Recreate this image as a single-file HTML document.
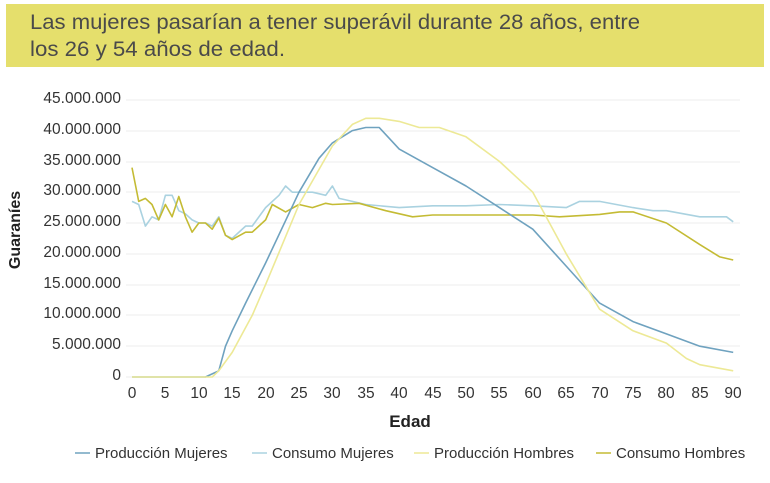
<!DOCTYPE html>
<html><head><meta charset="utf-8"><style>
body{margin:0;width:770px;height:478px;background:#fff;overflow:hidden;font-family:"Liberation Sans",sans-serif}
</style></head><body>
<svg width="770" height="478" xmlns="http://www.w3.org/2000/svg" font-family="Liberation Sans, sans-serif">
<rect x="6" y="4" width="758" height="63" fill="#e5df6c"/>
<text x="30" y="29" font-size="21" fill="#4a4a4a" textLength="610" lengthAdjust="spacingAndGlyphs">Las mujeres pasarían a tener superávil durante 28 años, entre</text>
<text x="30" y="56" font-size="21" fill="#4a4a4a" textLength="255" lengthAdjust="spacingAndGlyphs">los 26 y 54 años de edad.</text>
<g stroke="#ececec" stroke-width="1">
<line x1="126" x2="740" y1="100" y2="100"/><line x1="126" x2="740" y1="131" y2="131"/>
<line x1="126" x2="740" y1="162" y2="162"/><line x1="126" x2="740" y1="192" y2="192"/>
<line x1="126" x2="740" y1="223" y2="223"/><line x1="126" x2="740" y1="254" y2="254"/>
<line x1="126" x2="740" y1="285" y2="285"/><line x1="126" x2="740" y1="315" y2="315"/>
<line x1="126" x2="740" y1="346" y2="346"/><line x1="126" x2="740" y1="377" y2="377"/>
</g>
<g font-size="15.5" fill="#333" text-anchor="end">
<text x="121" y="103">45.000.000</text><text x="121" y="134">40.000.000</text>
<text x="121" y="165">35.000.000</text><text x="121" y="195">30.000.000</text>
<text x="121" y="226">25.000.000</text><text x="121" y="257">20.000.000</text>
<text x="121" y="288">15.000.000</text><text x="121" y="318">10.000.000</text>
<text x="121" y="349">5.000.000</text><text x="121" y="380">0</text>
</g>
<text transform="translate(20,230) rotate(-90)" font-size="16" font-weight="bold" fill="#222" text-anchor="middle">Guaraníes</text>
<g font-size="15.5" fill="#333" text-anchor="middle">
<text x="132" y="398">0</text><text x="165" y="398">5</text><text x="199" y="398">10</text><text x="232" y="398">15</text><text x="266" y="398">20</text><text x="299" y="398">25</text><text x="332" y="398">30</text><text x="366" y="398">35</text><text x="399" y="398">40</text><text x="433" y="398">45</text><text x="466" y="398">50</text><text x="499" y="398">55</text><text x="533" y="398">60</text><text x="566" y="398">65</text><text x="600" y="398">70</text><text x="633" y="398">75</text><text x="666" y="398">80</text><text x="700" y="398">85</text><text x="733" y="398">90</text>
</g>
<text x="410" y="427" font-size="17" font-weight="bold" fill="#222" text-anchor="middle">Edad</text>
<g fill="none" stroke-width="1.6" stroke-linejoin="round">
<polyline id="cm" stroke="#aad2e0" points=""/>
<polyline id="ch" stroke="#c4bb34" points=""/>
<polyline id="pm" stroke="#6fa2bf" points=""/>
<polyline id="ph" stroke="#ede996" points=""/>
</g>
<g font-size="15" fill="#333">
<line x1="75" x2="90" y1="453" y2="453" stroke="#6fa2bf" stroke-width="1.5"/><text x="95" y="458">Producción Mujeres</text>
<line x1="252" x2="267" y1="453" y2="453" stroke="#aad2e0" stroke-width="1.5"/><text x="272" y="458">Consumo Mujeres</text>
<line x1="414" x2="429" y1="453" y2="453" stroke="#ede996" stroke-width="1.5"/><text x="434" y="458">Producción Hombres</text>
<line x1="596" x2="611" y1="453" y2="453" stroke="#c4bb34" stroke-width="1.5"/><text x="616" y="458">Consumo Hombres</text>
</g>
</svg>
<script>
function P(d){return d.map(function(p){return (132+p[0]*6.68).toFixed(1)+","+(377-p[1]*6.16).toFixed(1)}).join(" ")}
var pm=[[0,0],[11,0],[12,0.5],[13,1],[14,5],[15,7.5],[17,12],[20,18.5],[25,30],[28,35.5],[30,38],[33,40],[35,40.5],[37,40.5],[40,37],[45,34],[50,31],[55,27.5],[60,24],[65,18],[70,12],[75,9],[80,7],[85,5],[90,4]];
var cm=[[0,28.5],[1,28],[2,24.5],[3,26],[4,25.5],[5,29.5],[6,29.5],[7,27],[8,26.5],[9,25.5],[10,25],[11,25],[12,24.5],[13,26],[14,23],[15,22.5],[17,24.5],[18,24.5],[20,27.5],[22,29.5],[23,31],[24,30],[27,30],[29,29.5],[30,31],[31,29],[33,28.5],[35,28],[40,27.5],[45,27.8],[50,27.8],[55,28],[60,27.8],[65,27.5],[67,28.5],[70,28.5],[75,27.5],[78,27],[80,27],[85,26],[89,26],[90,25.2]];
var ph=[[0,0],[12,0],[13,1],[15,4],[18,10],[20,15],[25,28],[30,37.5],[33,41],[35,42],[37,42],[40,41.5],[43,40.5],[46,40.5],[50,39],[55,35],[60,30],[65,20],[70,11],[75,7.5],[80,5.5],[83,3],[85,2],[90,1]];
var ch=[[0,34],[1,28.5],[2,29],[3,28],[4,25.5],[5,28],[6,26],[7,29.3],[8,26],[9,23.5],[10,25],[11,25],[12,24],[13,25.8],[14,23],[15,22.3],[17,23.5],[18,23.5],[20,25.5],[21,28],[23,26.8],[25,28],[27,27.5],[29,28.2],[30,28],[34,28.2],[38,27],[42,26],[45,26.3],[50,26.3],[55,26.3],[60,26.3],[64,26],[70,26.4],[73,26.8],[75,26.8],[80,25],[85,21.5],[88,19.5],[90,19]];
document.getElementById('pm').setAttribute('points',P(pm));
document.getElementById('cm').setAttribute('points',P(cm));
document.getElementById('ph').setAttribute('points',P(ph));
document.getElementById('ch').setAttribute('points',P(ch));
</script>
</body></html>
